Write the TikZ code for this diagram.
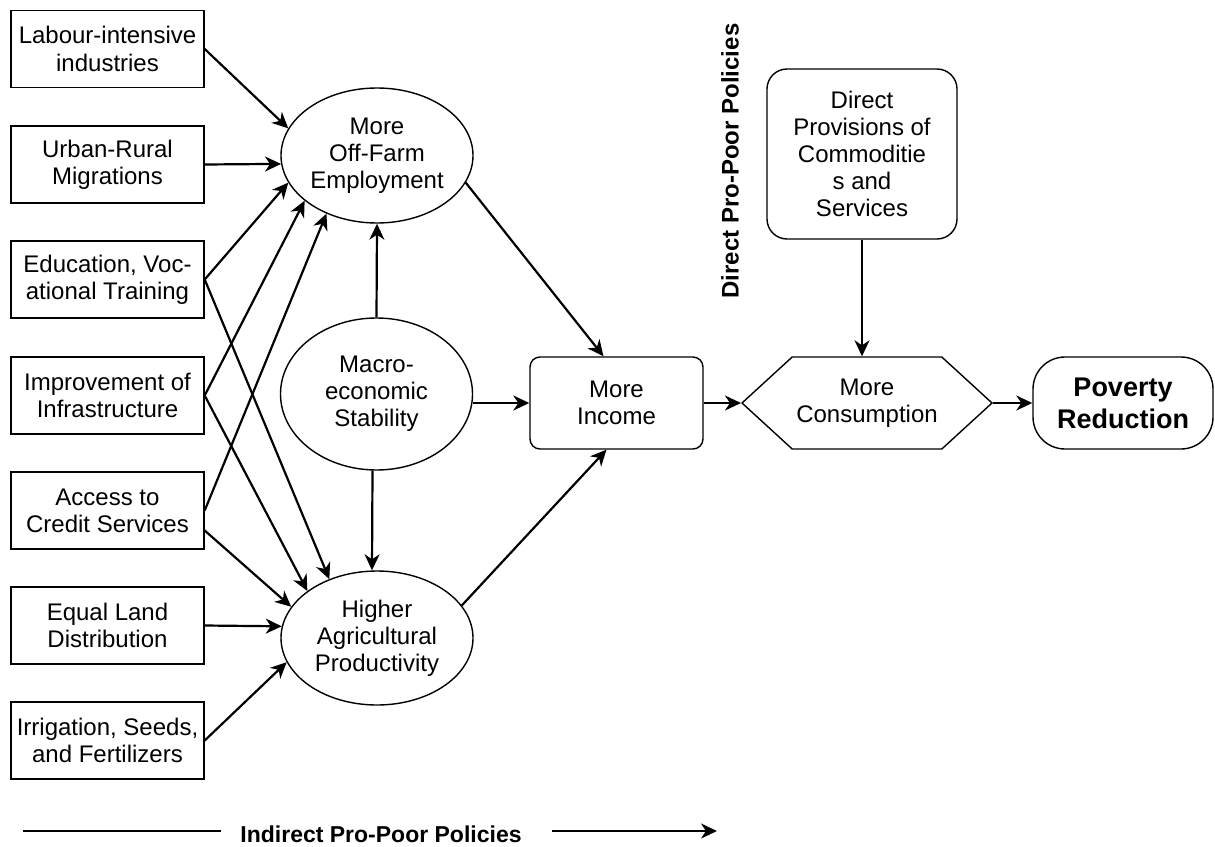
\documentclass[tikz,border=0pt]{standalone}
\usepackage{fontspec}
\setmainfont{Liberation Sans}
\usetikzlibrary{arrows.meta,shapes.geometric,shapes.symbols}

\begin{document}
\begin{tikzpicture}[x=0.5pt,y=-0.5pt,
  font=\fontsize{12}{13.6}\selectfont,
  policy/.style={draw,line width=0.7pt,rectangle,minimum width=96.5pt,minimum height=38.5pt,inner sep=0pt,align=center},
  effect/.style={draw,line width=0.7pt,ellipse,minimum width=96pt,inner sep=0pt,align=center},
  outcome/.style={draw,line width=0.7pt,rectangle,inner sep=0pt,align=center},
  link/.style={line width=1.1pt,-{Stealth[length=8pt,width=7.5pt,inset=2.5pt]}},
  caption/.style={font=\fontsize{12}{14}\selectfont\bfseries}]
%width=1215px
%height=846px
\useasboundingbox (0,0) rectangle (1215,846);
% indirect policies
\node[policy] (labour) at (107.5,49)  {Labour-intensive\\industries};
\node[policy] (urban)  at (107.5,164.5) {Urban-Rural\\Migrations};
\node[policy] (educ)   at (107.5,279.5) {Education, Voc-\\ational Training};
\node[policy] (infra)  at (107.5,395.5) {Improvement of\\Infrastructure};
\node[policy] (credit) at (107.5,510.5) {Access to\\Credit Services};
\node[policy] (land)   at (107.5,625.5) {Equal Land\\Distribution};
\node[policy] (irrig)  at (107.5,740.5) {Irrigation, Seeds,\\and Fertilizers};
% effects
\node[effect,minimum height=67.5pt] (off)    at (377,155.5) {More\\Off-Farm\\Employment};
\node[effect,minimum height=76pt]   (macro)  at (376.5,394) {Macro-\\economic\\Stability};
\node[effect,minimum height=67pt]   (higher) at (377,638)   {Higher\\Agricultural\\Productivity};
% outcomes
\node[outcome,rounded corners=5pt,minimum width=86.5pt,minimum height=46pt] (income) at (616.5,403) {More\\Income};
\node[draw,line width=0.7pt,signal,signal to=west and east,signal pointer angle=85,
      minimum width=125pt,minimum height=46pt,inner sep=0pt,align=center] (cons) at (867,403) {More\\Consumption};
\node[outcome,rounded corners=16pt,minimum width=90pt,minimum height=46pt,
      font=\fontsize{13.5}{16}\selectfont\bfseries] (poverty) at (1123,403) {Poverty\\Reduction};
\node[outcome,rounded corners=10pt,minimum width=95pt,minimum height=85pt] (direct) at (862,154)
      {Direct\\Provisions of\\Commoditie\\s and\\Services};
% labels
\node[caption,rotate=90] (directlbl) at (730,161) {Direct Pro-Poor Policies};
\node[caption,font=\fontsize{11.5}{14}\selectfont\bfseries] (indirect) at (381,834) {Indirect Pro-Poor Policies};
\coordinate (indA) at (23,831);
\coordinate (indB) at (221,831);
\coordinate (indC) at (552,831);
\coordinate (indD) at (717,831);
% links
\draw[link] (labour.east) -- (off.163);
\draw[link] (urban.east)  -- (off.185);
\draw[link] (educ.east)   -- (off.197);
\draw[link] (educ.east)   -- (higher.129);
\draw[link] (infra.east)  -- (off.212);
\draw[link] (infra.east)  -- (higher.146);
\draw[link] (credit.east) -- (off.229);
\draw[link] ([yshift=-10pt]credit.east) -- (higher.160);
\draw[link] (land.east)   -- (higher.173);
\draw[link] (irrig.east)  -- (higher.195);
\draw[link] (macro.north) -- (off.south);
\draw[link] ([xshift=-2pt]macro.south) -- ([xshift=-2.5pt]higher.north);
\draw[link] (macro.east |- income.west) -- (income.west);
\draw[link] (off.343)    -- ([xshift=-6.5pt]income.north);
\draw[link] (higher.21)  -- ([xshift=-5pt]income.south);
\draw[link] (income.east) -- (cons.west);
\draw[link] (cons.east)   -- (poverty.west);
\draw[link] (direct.south) -- (direct.south |- cons.north);
\draw[line width=1.1pt] (indA) -- (indB);
\draw[link] (indC) -- (indD);
\end{tikzpicture}
\end{document}
